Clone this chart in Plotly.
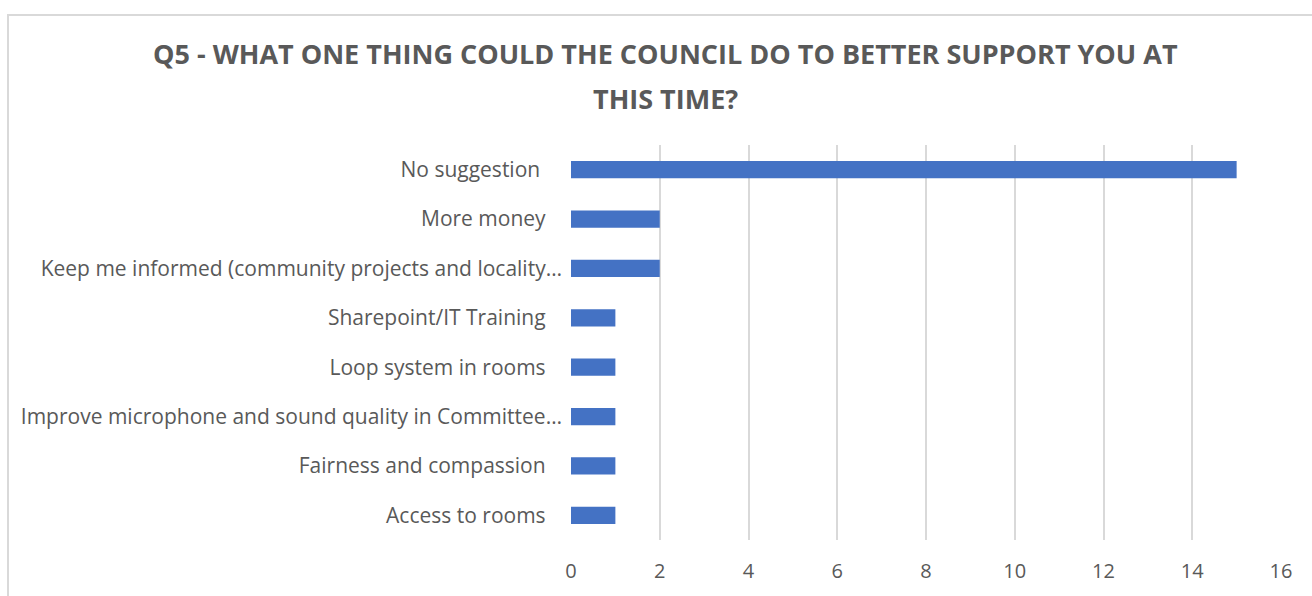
import plotly.graph_objects as go

# Survey responses, listed top to bottom as shown
categories = [
    "No suggestion\u00a0\u00a0\u00a0\u00a0",
    "More money\u00a0\u00a0\u00a0",
    "Keep me informed (community projects and locality…",
    "Sharepoint/IT Training\u00a0\u00a0\u00a0",
    "Loop system in rooms\u00a0\u00a0\u00a0",
    "Improve microphone and sound quality in Committee…",
    "Fairness and compassion\u00a0\u00a0\u00a0",
    "Access to rooms\u00a0\u00a0\u00a0",
]
counts = [15, 2, 2, 1, 1, 1, 1, 1]
x_ticks = [0, 2, 4, 6, 8, 10, 12, 14, 16]
title_lines = [
    "Q5 - WHAT ONE THING COULD THE COUNCIL DO TO BETTER SUPPORT YOU AT",
    "THIS TIME?",
]

W, H = 1312, 596
L, R, T, B = 571, 31, 145, 53
pw, ph = W - L - R, H - T - B


def px_x(p):
    return (p - L) / pw


def px_y(p):
    return (H - B - p) / ph


FONT = "Open Sans"
GREY = "#595959"

fig = go.Figure(
    go.Bar(
        x=counts,
        y=categories,
        orientation="h",
        marker=dict(color="#4472C4", line=dict(width=0)),
        width=0.35,
        hoverinfo="x+y",
    )
)

# two-line title, each line placed separately for exact spacing
annotations = [
    dict(
        text=line,
        xref="paper",
        yref="paper",
        x=px_x(665),
        y=px_y(cy),
        xanchor="center",
        yanchor="middle",
        showarrow=False,
        font=dict(family=FONT, size=27, color=GREY, weight="bold"),
    )
    for line, cy in zip(title_lines, [53, 98])
]

fig.update_layout(
    width=W,
    height=H,
    margin=dict(l=L, r=R, t=T, b=B, pad=0),
    paper_bgcolor="white",
    plot_bgcolor="white",
    showlegend=False,
    annotations=annotations,
    xaxis=dict(
        range=[0, 16],
        tickvals=x_ticks,
        showgrid=True,
        gridcolor="#D9D9D9",
        gridwidth=1.5,
        zeroline=False,
        showline=False,
        ticks="",
        tickfont=dict(family=FONT, size=20, color=GREY),
        ticklabelstandoff=17,
        fixedrange=True,
    ),
    yaxis=dict(
        autorange="reversed",
        showgrid=False,
        zeroline=False,
        showline=False,
        ticks="",
        tickfont=dict(family=FONT, size=21, color=GREY),
        ticklabelstandoff=8,
        fixedrange=True,
    ),
    shapes=[
        # outer chart border (extends past the visible canvas on right and bottom)
        dict(
            type="rect",
            xref="paper",
            yref="paper",
            x0=px_x(8),
            x1=px_x(W + 20),
            y0=px_y(H + 20),
            y1=px_y(14),
            line=dict(color="#D9D9D9", width=2),
            fillcolor="rgba(0,0,0,0)",
            layer="below",
        )
    ],
)

fig.write_html("out.html")
